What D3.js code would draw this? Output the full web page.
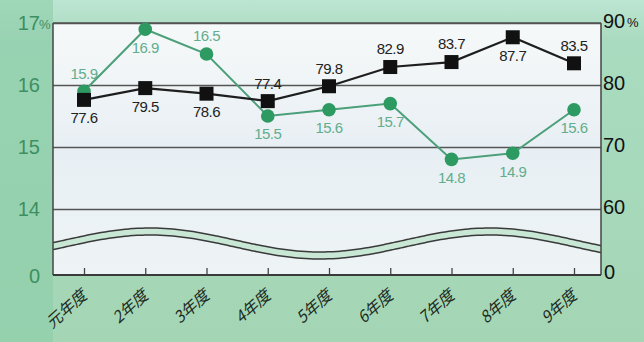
<!DOCTYPE html>
<html><head><meta charset="utf-8">
<script src="https://cdn.jsdelivr.net/npm/d3@7"></script>
<style>body{margin:0;background:#a6d8b9}svg{display:block}</style></head>
<body><svg id="c" width="644" height="342"></svg>
<script>
// ---- data ----
const categories = ["元年度","2年度","3年度","4年度","5年度","6年度","7年度","8年度","9年度"];
const rateValues  = [77.6, 79.5, 78.6, 77.4, 79.8, 82.9, 83.7, 87.7, 83.5];   // black squares, right axis (%)
const shareValues = [15.9, 16.9, 16.5, 15.5, 15.6, 15.7, 14.8, 14.9, 15.6];   // green circles, left axis (%)
const leftTicks  = [14, 15, 16, 17];
const rightTicks = [60, 70, 80, 90];
const baseLabel = "0";
// label placement: 1 = below marker, -1 = above
const rateLabelSide  = [1, 1, 1, -1, -1, -1, -1, 1, -1];
const shareLabelSide = [-1, 1, -1, 1, 1, 1, 1, 1, 1];

// ---- layout ----
const L = 53, R = 601, T = 23, Y60 = 209, B = 275;
const svg = d3.select("#c");

const defs = svg.append("defs");
const g1 = defs.append("linearGradient").attr("id","bg").attr("x1",0).attr("y1",0).attr("x2",0).attr("y2",1);
g1.append("stop").attr("offset","0").attr("stop-color","#bde5d2");
g1.append("stop").attr("offset","0.12").attr("stop-color","#a9dbc0");
g1.append("stop").attr("offset","1").attr("stop-color","#a4d6b5");
svg.append("rect").attr("width",644).attr("height",342).attr("fill","url(#bg)");
svg.append("rect").attr("x",0).attr("y",0).attr("width",L).attr("height",342).attr("fill","#8ccda8").attr("opacity",0.6);

const pg = defs.append("linearGradient").attr("id","pl").attr("x1",0).attr("y1",0).attr("x2",0).attr("y2",1);
pg.append("stop").attr("offset","0").attr("stop-color","#f6f9f9");
pg.append("stop").attr("offset","0.5").attr("stop-color","#e8eff4");
pg.append("stop").attr("offset","1").attr("stop-color","#eef4f5");
svg.append("rect").attr("x",L).attr("y",T).attr("width",R-L).attr("height",B-T).attr("fill","url(#pl)");

const x = d3.scalePoint().domain(categories).range([84, 574]);
const yL = d3.scaleLinear().domain([14, 17]).range([Y60, T]);
const yR = d3.scaleLinear().domain([60, 90]).range([Y60, T]);

// gridlines
svg.append("g").attr("transform",`translate(${L},0)`)
  .call(d3.axisRight(yR).tickValues(rightTicks).tickSize(R-L).tickFormat(""))
  .call(g=>g.select(".domain").remove())
  .call(g=>g.selectAll("line").attr("stroke","#555").attr("stroke-width",1.4));

// axis break wave
const wx = d3.range(L, R+1, 4);
const wave = xx => 240 - 12*Math.cos(2*Math.PI*(xx-150)/340);
const area = d3.area().x(d=>d).y0(d=>wave(d)).y1(d=>wave(d)+7).curve(d3.curveBasis);
svg.append("path").datum(wx).attr("d",area).attr("fill","#c9e7d5");
const lineT = d3.line().x(d=>d).y(d=>wave(d)).curve(d3.curveBasis);
const lineB = d3.line().x(d=>d).y(d=>wave(d)+7).curve(d3.curveBasis);
svg.append("path").datum(wx).attr("d",lineT).attr("fill","none").attr("stroke","#3a3a3a").attr("stroke-width",1.5);
svg.append("path").datum(wx).attr("d",lineB).attr("fill","none").attr("stroke","#3a3a3a").attr("stroke-width",1.5);

// frame
svg.append("line").attr("x1",L).attr("x2",L).attr("y1",T).attr("y2",B).attr("stroke","#444").attr("stroke-width",1.5);
svg.append("line").attr("x1",R).attr("x2",R).attr("y1",T).attr("y2",B).attr("stroke","#444").attr("stroke-width",1.5);
svg.append("line").attr("x1",L).attr("x2",R).attr("y1",T).attr("y2",T).attr("stroke","#555").attr("stroke-width",1.4);

// bottom axis
const xa = svg.append("g").attr("transform",`translate(0,${B})`)
  .call(d3.axisTop(x).tickSize(7).tickFormat(""));
xa.select(".domain").remove();
xa.selectAll("line").attr("stroke","#444").attr("stroke-width",1.3);
svg.append("line").attr("x1",L).attr("x2",R).attr("y1",B).attr("y2",B).attr("stroke","#3a3a3a").attr("stroke-width",2);

svg.append("g").selectAll("text").data(categories).join("text")
  .attr("transform",d=>`translate(${x(d)+4},${B+22}) rotate(-42)`)
  .attr("text-anchor","end").attr("font-family","Noto Sans CJK JP").attr("font-size",16)
  .attr("font-style","italic").attr("fill","#1c2a22").text(d=>d);

// left labels
const lf = "Liberation Sans, Arial, sans-serif";
svg.append("g").selectAll("text").data(leftTicks).join("text")
  .attr("x",40).attr("y",d=>yL(d)).attr("dy","0.36em").attr("text-anchor","end")
  .attr("font-family",lf).attr("font-size",20).attr("fill","#3d8f61").text(d=>d);
svg.append("text").attr("x",39).attr("y",yL(17)+1).attr("dy","0.36em").attr("font-family",lf)
  .attr("font-size",13).attr("fill","#3d8f61").text("%");
svg.append("text").attr("x",40).attr("y",B+1).attr("dy","0.36em").attr("text-anchor","end")
  .attr("font-family",lf).attr("font-size",20).attr("fill","#3d8f61").text(baseLabel);

// right labels
svg.append("g").selectAll("text").data(rightTicks).join("text")
  .attr("x",603).attr("y",d=>yR(d)-2).attr("dy","0.36em")
  .attr("font-family",lf).attr("font-size",20).attr("fill","#111").text(d=>d);
svg.append("text").attr("x",627).attr("y",yR(90)-1).attr("dy","0.36em").attr("font-family",lf)
  .attr("font-size",13).attr("fill","#111").text("%");
svg.append("text").attr("x",604).attr("y",B-3).attr("dy","0.36em")
  .attr("font-family",lf).attr("font-size",20).attr("fill","#111").text(baseLabel);

// green series
const gLine = d3.line().x((d,i)=>x(categories[i])).y(d=>yL(d));
svg.append("path").datum(shareValues).attr("d",gLine).attr("fill","none")
  .attr("stroke","#4b9f79").attr("stroke-width",2);
// black series
const bLine = d3.line().x((d,i)=>x(categories[i])).y(d=>yR(d));
svg.append("path").datum(rateValues).attr("d",bLine).attr("fill","none")
  .attr("stroke","#1e1e1e").attr("stroke-width",2.2);

svg.append("g").selectAll("circle").data(shareValues).join("circle")
  .attr("cx",(d,i)=>x(categories[i])).attr("cy",d=>yL(d)).attr("r",6.8).attr("fill","#2d9a62");
svg.append("g").selectAll("rect").data(rateValues).join("rect")
  .attr("x",(d,i)=>x(categories[i])-7).attr("y",d=>yR(d)-7).attr("width",14).attr("height",14).attr("fill","#111");

const nf = "Liberation Sans Narrow, Liberation Sans, Arial, sans-serif";
svg.append("g").selectAll("text").data(shareValues).join("text")
  .attr("x",(d,i)=>x(categories[i])).attr("y",(d,i)=>yL(d)+shareLabelSide[i]*18)
  .attr("dy","0.36em").attr("text-anchor","middle").attr("font-family",nf).attr("font-size",15)
  .attr("letter-spacing",-0.6).attr("fill","#62ad8c").text(d=>d.toFixed(1));
svg.append("g").selectAll("text").data(rateValues).join("text")
  .attr("x",(d,i)=>x(categories[i])).attr("y",(d,i)=>yR(d)+rateLabelSide[i]*18)
  .attr("dy","0.36em").attr("text-anchor","middle").attr("font-family",nf).attr("font-size",15)
  .attr("letter-spacing",-0.6).attr("fill","#222").text(d=>d.toFixed(1));
</script></body></html>
